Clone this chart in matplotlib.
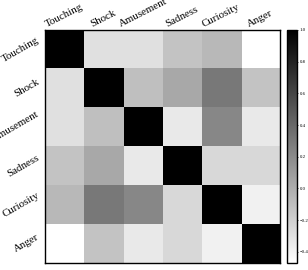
import numpy as np
import matplotlib
matplotlib.use("Agg")
import matplotlib.pyplot as plt

labels = ["Touching", "Shock", "Amusement", "Sadness", "Curiosity", "Anger"]

# correlation rows
touching = [1.00, -0.29, -0.29, -0.13, -0.06, -0.47]
shock = [-0.29, 1.00, -0.10, 0.03, 0.31, -0.12]
amusement = [-0.29, -0.10, 1.00, -0.34, 0.22, -0.34]
sadness = [-0.13, 0.03, -0.34, 1.00, -0.245, -0.245]
curiosity = [-0.06, 0.31, 0.22, -0.245, 1.00, -0.385]
anger = [-0.47, -0.12, -0.34, -0.245, -0.385, 1.00]

cbar_ticks = [1, 0.8, 0.6, 0.4, 0.2, 0, -0.2, -0.4]

corr = np.array([touching, shock, amusement, sadness, curiosity, anger])

plt.rcParams['font.family'] = ['Liberation Serif', 'DejaVu Serif']

fig = plt.figure(figsize=(3.08, 2.70), dpi=100)
ax = fig.add_axes([0.146, 0.026, 0.763, 0.863])
cax = fig.add_axes([0.932, 0.026, 0.032, 0.863])

im = ax.imshow(corr, cmap='gray_r', vmin=-0.47, vmax=1.0, aspect='auto')

ax.set_xticks(range(len(labels)))
ax.set_yticks(range(len(labels)))
ax.xaxis.tick_top()
ax.set_xticklabels(labels, rotation=27, ha='center', va='bottom', fontsize=7.8)
ax.set_yticklabels(labels, rotation=30, ha='right', va='center', fontsize=7.8)
ax.tick_params(length=0)
ax.tick_params(axis='x', pad=1)
ax.tick_params(axis='y', pad=3)
for s in ax.spines.values():
    s.set_color('black')
    s.set_linewidth(1.0)

cb = fig.colorbar(im, cax=cax)
cb.set_ticks(cbar_ticks)
cb.ax.tick_params(labelsize=3.5, length=1, width=0.5, pad=1)
cb.outline.set_linewidth(1.0)

fig.savefig('out.png', dpi=100)
